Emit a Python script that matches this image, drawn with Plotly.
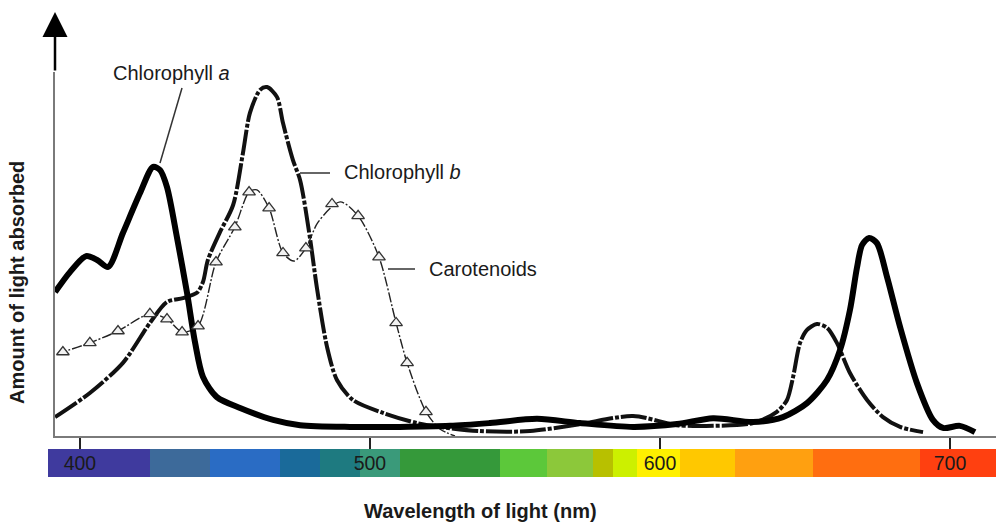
import plotly.graph_objects as go

W, H = 996, 522
def fx(px): return px / W
def fy(py): return 1 - py / H

# ---- data (wavelength nm, relative absorbance) ----
chla_x = [391.4, 396.6, 402.1, 405.9, 409.7, 414.8, 420.7, 425.2, 427.6, 430.0, 433.4, 436.9,
          439.7, 442.4, 447.2, 455.2, 466.6, 475.9, 493.1, 510.3, 527.6, 541.4, 557.6, 572.4,
          590.7, 605.9, 618.3, 632.1, 642.4, 650.7, 657.6, 662.1, 665.5, 667.9, 669.7, 672.1,
          674.8, 678.3, 682.8, 688.6, 694.1, 697.6, 703.4, 708.6]
chla_y = [41.1, 46.9, 51.4, 50.3, 48.3, 58.0, 69.4, 76.9, 76.0, 71.1, 56.9, 40.9,
          26.6, 16.9, 11.1, 8.0, 4.6, 3.1, 2.6, 2.6, 2.9, 3.7, 4.9, 3.7,
          2.6, 3.4, 5.1, 4.0, 5.4, 9.4, 16.0, 24.6, 36.0, 48.0, 54.6, 56.6,
          55.1, 45.4, 31.1, 15.1, 4.6, 2.3, 2.9, 1.1]

chlb_x = [391.4, 403.4, 414.8, 424.1, 430.0, 435.5, 440.3, 442.4, 444.1, 448.3, 452.8, 456.2,
          458.6, 462.1, 464.5, 467.9, 470.0, 473.4, 475.9, 479.3, 481.7, 485.2, 488.6, 494.1,
          504.5, 516.2, 524.1, 537.9, 555.2, 572.4, 590.7, 605.9, 618.3, 632.1, 640.3, 643.8,
          645.9, 648.3, 650.7, 654.1, 657.6, 661.0, 665.5, 671.4, 676.9, 682.8, 690.7]
chlb_y = [5.4, 12.3, 20.9, 32.3, 38.3, 39.4, 40.9, 44.0, 50.3, 58.3, 66.0, 80.9,
          92.3, 98.9, 99.7, 96.9, 89.4, 78.9, 73.1, 56.6, 42.3, 25.4, 16.0, 10.3,
          6.6, 3.7, 2.6, 1.4, 1.4, 3.4, 5.7, 3.1, 2.9, 3.7, 6.9, 10.3,
          16.9, 26.6, 30.3, 32.0, 30.9, 26.6, 18.0, 10.3, 5.4, 2.6, 1.1]

car_line_x = [392.1, 394.1, 403.4, 413.1, 424.1, 430.0, 435.2, 440.7, 446.9, 453.4, 458.3, 461.0,
              465.2, 470.0, 473.8, 477.9, 482.1, 489.7, 495.9, 503.1, 509.0, 512.8, 519.3, 524.1, 529.3]
car_line_y = [23.4, 24.0, 26.6, 30.0, 34.9, 33.4, 29.7, 31.4, 49.7, 59.7, 69.7, 70.3,
              65.1, 52.3, 50.0, 53.7, 61.1, 66.9, 62.9, 51.1, 32.3, 20.9, 6.9, 2.0, 0.0]
car_mark_x = [394.1, 403.4, 413.1, 424.1, 430.0, 435.2, 440.7, 446.9, 453.4, 458.3, 465.2, 470.0,
              477.9, 486.9, 495.9, 503.1, 509.0, 512.8, 519.3]
car_mark_y = [24.0, 26.6, 30.0, 34.9, 33.4, 29.7, 31.4, 49.7, 59.7, 69.7, 65.1, 52.3,
              53.7, 66.3, 62.9, 51.1, 32.3, 20.9, 6.9]

tick_vals = [400, 500, 600, 700]
tick_text = ["400", "500", "600", "700"]

# visible spectrum strip (band edges in nm, colours)
band_edges = [389.0, 424.1, 444.8, 469.0, 482.8, 496.6, 510.3, 544.8, 561.0, 576.9, 583.8,
              592.1, 606.9, 625.9, 652.8, 689.7, 715.9]
band_colors = ["#3f3a9e", "#3d6a9a", "#2a6cc4", "#1a6a9a", "#1e7a80", "#3a9a7a", "#35993a",
               "#5cc83a", "#8cc83a", "#b8c000", "#ccf000", "#fff000", "#ffc800", "#ffa010",
               "#ff6e10", "#ff4010"]

# ---- figure ----
fig = go.Figure()

n = len(band_colors)
cscale = []
for i, c in enumerate(band_colors):
    cscale.append([i / n, c])
    cscale.append([(i + 1) / n, c])
fig.add_trace(go.Heatmap(x=band_edges, y=[0, 1], z=[[i + 0.5 for i in range(n)]],
                         zmin=0, zmax=n, colorscale=cscale, showscale=False,
                         xaxis="x2", yaxis="y2", hoverinfo="skip"))

fig.add_trace(go.Scatter(x=chlb_x, y=chlb_y, mode="lines",
                         line=dict(color="#111", width=4, shape="spline", smoothing=0.8,
                                   dash="26px,2px,4px,2px"),
                         name="Chlorophyll b"))
fig.add_trace(go.Scatter(x=car_line_x, y=car_line_y, mode="lines",
                         line=dict(color="#222", width=1.4, shape="spline", smoothing=0.8,
                                   dash="10px,2px,2px,2px"),
                         name="Carotenoids"))
fig.add_trace(go.Scatter(x=chla_x, y=chla_y, mode="lines",
                         line=dict(color="#000", width=6, shape="spline", smoothing=0.8),
                         name="Chlorophyll a"))
fig.add_trace(go.Scatter(x=car_mark_x, y=car_mark_y, mode="markers",
                         marker=dict(symbol="triangle-up", size=11, color="#f2f2f2",
                                     line=dict(color="#333", width=1.3)),
                         name="Carotenoids markers"))

font_family = "Liberation Sans, Arial, Helvetica, sans-serif"

fig.update_layout(
    width=W, height=H, margin=dict(l=0, r=0, t=0, b=0),
    paper_bgcolor="white", plot_bgcolor="rgba(0,0,0,0)",
    showlegend=False,
    font=dict(family=font_family, color="#1a1a1a", size=20),
    xaxis=dict(domain=[fx(55), 1.0], range=[391.379, 715.862], showline=True,
               linecolor="#7a7a7a", linewidth=2, ticks="outside", ticklen=12, tickwidth=2,
               tickcolor="#222", tickvals=tick_vals, showticklabels=False,
               showgrid=False, zeroline=False, anchor="y"),
    yaxis=dict(domain=[fy(436), fy(72)], range=[0, 104], showline=True,
               linecolor="#7a7a7a", linewidth=2, showticklabels=False, ticks="",
               showgrid=False, zeroline=False, anchor="x"),
    xaxis2=dict(domain=[fx(48), 1.0], range=[389.0, 715.862], anchor="y2",
                tickvals=tick_vals, ticktext=tick_text, ticks="",
                ticklabelposition="inside", showgrid=False, zeroline=False,
                showline=False, tickfont=dict(size=19.5, color="#1a1a1a")),
    yaxis2=dict(domain=[fy(477), fy(449)], range=[0, 1], visible=False, anchor="x2"),
)

# leader lines for labels
line_style = dict(color="#333", width=1.5)
for (x0, y0, x1, y1) in [(182, 88, 160, 163), (300, 173, 330, 173), (388, 269, 415, 269)]:
    fig.add_shape(type="line", xref="paper", yref="paper",
                  x0=fx(x0), y0=fy(y0), x1=fx(x1), y1=fy(y1), line=line_style)

ann = [
    dict(text="Chlorophyll <i>a</i>", x=fx(111), y=fy(73), xanchor="left", yanchor="middle"),
    dict(text="Chlorophyll <i>b</i>", x=fx(342), y=fy(172), xanchor="left", yanchor="middle"),
    dict(text="Carotenoids", x=fx(427), y=fy(269), xanchor="left", yanchor="middle"),
    dict(text="<b>Wavelength of light (nm)</b>", x=fx(480), y=fy(511), xanchor="center",
         yanchor="middle"),
    dict(text="<b>Amount of light absorbed</b>", x=fx(17), y=fy(283), xanchor="center",
         yanchor="middle", textangle=-90),
]
for a in ann:
    fig.add_annotation(xref="paper", yref="paper", showarrow=False,
                       font=dict(family=font_family, size=20, color="#1a1a1a"), **a)

# axis arrow
fig.add_annotation(xref="paper", yref="paper", x=fx(55), y=fy(12), text="",
                   showarrow=True, ax=0, ay=60, arrowhead=2, arrowsize=2,
                   arrowwidth=2.5, arrowcolor="#000")

fig.write_html("out.html")
